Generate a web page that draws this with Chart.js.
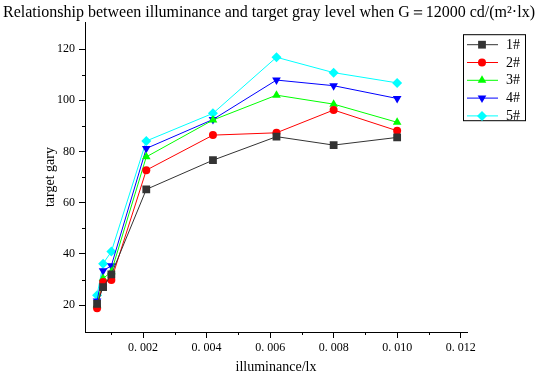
<!DOCTYPE html>
<html>
<head>
<meta charset="utf-8">
<script src="https://cdn.jsdelivr.net/npm/chart.js@4/dist/chart.umd.min.js"></script>
<style>
	html, body { margin: 0; padding: 0; background: #fff; }
	#wrap { width: 538px; height: 376px; }
</style>
</head>
<body>
<div id="wrap"><canvas id="grayChart"></canvas></div>
<script>
// illuminance (lx) at which each gray level was measured
const illuminance = [0.00055, 0.00074, 0.001, 0.0021, 0.0042, 0.0062, 0.008, 0.010];
// target gray level for each sample
const gray1 = [20.5, 27.0, 32.0, 65.2, 76.6, 85.8, 82.5, 85.5];
const gray2 = [18.8, 29.0, 29.8, 72.7, 86.4, 87.3, 96.2, 88.1];
const gray3 = [20.0, 30.4, 33.0, 77.9, 92.3, 102.0, 98.5, 91.4];
const gray4 = [21.6, 33.4, 35.4, 81.2, 92.5, 107.9, 105.7, 100.7];
const gray5 = [23.9, 36.2, 40.9, 84.1, 94.9, 116.8, 110.8, 106.8];
const seriesNames = ['1#', '2#', '3#', '4#', '5#'];
// tick values
const xMajor = [0.002, 0.004, 0.006, 0.008, 0.010, 0.012];
const xMinor = [0.001, 0.003, 0.005, 0.007, 0.009, 0.011];
const yMajor = [20, 40, 60, 80, 100, 120];
const yMinor = [30, 50, 70, 90, 110];

const serif = "'Liberation Serif', 'DejaVu Serif', serif";

function pts(values) {
	return illuminance.map((x, i) => ({ x: x, y: values[i] }));
}

function makeSet(label, values, color, style, radius, rotation) {
	return {
		label: label,
		data: pts(values),
		borderColor: color,
		backgroundColor: color,
		borderWidth: 1,
		pointStyle: style,
		pointRadius: radius,
		pointRotation: rotation || 0,
		pointBorderWidth: 0,
		tension: 0
	};
}

// short minor ticks outside the axes
const minorTicks = {
	id: 'minorTicks',
	afterDraw(chart) {
		const ctx = chart.ctx;
		const xs = chart.scales.x, ys = chart.scales.y;
		const area = chart.chartArea;
		ctx.save();
		ctx.strokeStyle = '#000';
		ctx.lineWidth = 1;
		ctx.beginPath();
		xMinor.forEach(v => {
			const px = Math.round(xs.getPixelForValue(v)) + 0.5;
			ctx.moveTo(px, area.bottom);
			ctx.lineTo(px, area.bottom + 3);
		});
		yMinor.forEach(v => {
			const py = Math.round(ys.getPixelForValue(v)) + 0.5;
			ctx.moveTo(area.left, py);
			ctx.lineTo(area.left - 3, py);
		});
		ctx.stroke();
		ctx.restore();
	}
};

// boxed legend sitting on the top right corner of the plot
const boxLegend = {
	id: 'boxLegend',
	afterDraw(chart) {
		const ctx = chart.ctx;
		const area = chart.chartArea;
		const left = area.right - 4, top = area.top + 12;
		const w = 62, rowH = 17.8;
		ctx.save();
		ctx.fillStyle = '#fff';
		ctx.fillRect(left, top, w, 86);
		ctx.strokeStyle = '#000';
		ctx.lineWidth = 1;
		ctx.strokeRect(left + 0.5, top + 0.5, w, 86);
		chart.data.datasets.forEach((ds, i) => {
			const y = top + 10 + i * rowH;
			ctx.strokeStyle = ds.borderColor;
			ctx.beginPath();
			ctx.moveTo(left + 4, y + 0.5);
			ctx.lineTo(left + 35, y + 0.5);
			ctx.stroke();
			ctx.fillStyle = ds.backgroundColor;
			Chart.helpers.drawPoint(ctx, {
				pointStyle: ds.pointStyle,
				radius: ds.pointRadius,
				rotation: ds.pointRotation,
				borderWidth: 0
			}, left + 19, y + 0.5);
			ctx.fillStyle = '#000';
			ctx.font = '14px ' + serif;
			ctx.textBaseline = 'middle';
			ctx.fillText(ds.label, left + 43, y + 1);
		});
		ctx.restore();
	}
};

const ctxGray = document.getElementById('grayChart').getContext('2d');
const grayChart = new Chart(ctxGray, {
	type: 'line',
	data: {
		datasets: [
			makeSet(seriesNames[0], gray1, '#333333', 'rect', 5.5),
			makeSet(seriesNames[1], gray2, '#ff0000', 'circle', 4),
			makeSet(seriesNames[2], gray3, '#00ff00', 'triangle', 5),
			makeSet(seriesNames[3], gray4, '#0000ff', 'triangle', 5, 180),
			makeSet(seriesNames[4], gray5, '#00ffff', 'rectRot', 5)
		]
	},
	options: {
		responsive: true,
		maintainAspectRatio: false,
		animation: false,
		layout: { padding: 0 },
		plugins: {
			legend: { display: false },
			tooltip: { enabled: false },
			title: {
				display: true,
				text: 'Relationship between illuminance and target gray level when G\uFF1D12000 cd/(m\u00B2\u00B7lx)',
				color: '#000',
				font: { family: serif, size: 16, weight: 'normal' },
				padding: { top: 3, bottom: 0 }
			}
		},
		scales: {
			x: {
				type: 'linear',
				min: 0.00017,
				max: 0.0122,
				afterBuildTicks: axis => { axis.ticks = xMajor.map(v => ({ value: v })); },
				afterFit: axis => { axis.height = 44; },
				border: { display: true, color: '#000', width: 1 },
				grid: { drawOnChartArea: false, drawTicks: true, tickLength: 6, color: '#000' },
				ticks: {
					color: '#000',
					padding: 3,
					maxRotation: 0,
					font: { family: serif, size: 12 },
					callback: v => v.toFixed(3).replace('.', '. ')
				},
				title: {
					display: true,
					text: 'illuminance/lx',
					color: '#000',
					font: { family: serif, size: 14 },
					padding: { top: 3, bottom: 0 }
				}
			},
			y: {
				type: 'linear',
				min: 9.5,
				max: 130.5,
				afterBuildTicks: axis => { axis.ticks = yMajor.map(v => ({ value: v })); },
				afterFit: axis => { axis.width = 85; },
				border: { display: true, color: '#000', width: 1 },
				grid: { drawOnChartArea: false, drawTicks: true, tickLength: 6, color: '#000' },
				ticks: {
					color: '#000',
					padding: 4,
					font: { family: serif, size: 12 }
				},
				title: {
					display: true,
					text: 'target gary',
					color: '#000',
					font: { family: serif, size: 14 },
					padding: { top: 42, bottom: 0 }
				}
			},
			// empty right axis, only reserves the space where the legend hangs
			spacer: {
				type: 'linear',
				position: 'right',
				display: true,
				afterFit: axis => { axis.width = 71; },
				border: { display: false },
				grid: { display: false },
				ticks: { display: false }
			}
		}
	},
	plugins: [minorTicks, boxLegend]
});
</script>
</body>
</html>
